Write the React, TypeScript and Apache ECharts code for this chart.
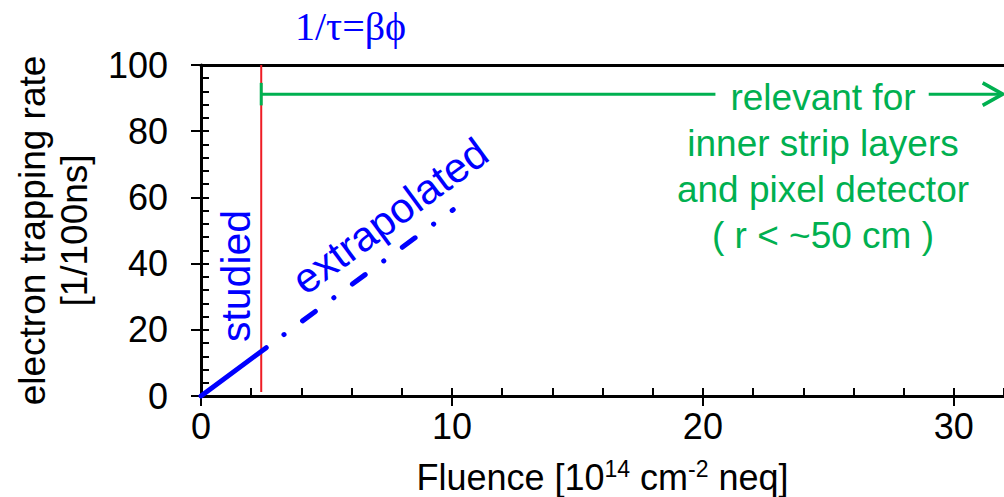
import React, { useEffect, useRef } from "react";
import * as echarts from "echarts";

// Axis ranges and tick steps
const fluenceRange = [0, 32];
const rateRange = [0, 100];
const fluenceMajorStep = 10;
const fluenceMinorStep = 2;
const rateMajorStep = 20;
const rateMinorStep = 4;

// Trapping rate vs fluence: measured range and its extrapolation
const studiedPoints = [
  [0, 0],
  [2.6, 14.6],
];
const extrapolatedPoints = [
  [2.6, 14.6],
  [10.05, 56.3],
];

// Highest fluence reached in the study
const boundaryPoints = [
  [2.4, 1.2],
  [2.4, 100],
];

// "relevant for ..." range arrow
const rangeStop = [
  [2.4, 94.6],
  [2.4, 87.8],
];
const rangeLineLeft = [
  [2.4, 91.2],
  [20.5, 91.2],
];
const rangeLineRight = [
  [29.0, 91.2],
  [31.95, 91.2],
];
const rangeHead = [
  [31.15, 94.6],
  [31.95, 91.2],
  [31.15, 87.8],
];

const BLUE = "#0000ff";
const GREEN = "#00b050";
const RED = "#ee1c25";
const SANS = '"Liberation Sans", Arial, sans-serif';
const SERIF = '"Liberation Serif", "Times New Roman", serif';

export default function App() {
  const ref = useRef<HTMLDivElement>(null);

  useEffect(() => {
    if (!ref.current) return;
    const chart = echarts.init(ref.current, null, { renderer: "svg" });

    const plain = (data: number[][], color: string, width: number, extra: any = {}) => ({
      type: "line",
      data,
      symbol: "none",
      silent: true,
      clip: false,
      xAxisIndex: 0,
      yAxisIndex: 0,
      lineStyle: { color, width, cap: "round", ...extra },
    });

    chart.setOption({
      animation: false,
      backgroundColor: "#ffffff",
      textStyle: { fontFamily: SANS },
      title: {
        text: "1/τ=βϕ",
        left: 290,
        top: 1,
        textStyle: {
          fontFamily: SERIF,
          fontSize: 40,
          fontWeight: "normal",
          color: BLUE,
        },
      },
      grid: {
        left: 201,
        right: 0,
        top: 65,
        bottom: 101,
        outerBoundsMode: "none",
      },
      xAxis: [
        {
          type: "value",
          position: "bottom",
          min: fluenceRange[0],
          max: fluenceRange[1],
          interval: fluenceMajorStep,
          axisLine: { onZero: false, lineStyle: { color: "#000", width: 3 } },
          axisTick: { inside: false, length: 10, lineStyle: { color: "#000", width: 2 } },
          axisLabel: {
            fontSize: 36,
            color: "#000",
            margin: 12,
            fontFamily: SANS,
            showMaxLabel: false,
          },
          splitLine: { show: false },
          name: "Fluence [10{sup|14} cm{sup|-2} neq]",
          nameLocation: "middle",
          nameGap: 61,
          nameTextStyle: {
            fontSize: 36,
            color: "#000",
            fontFamily: SANS,
            lineHeight: 40,
            rich: {
              sup: { fontSize: 23, verticalAlign: "top", lineHeight: 40, color: "#000", fontFamily: SANS },
            },
          },
        },
        {
          type: "value",
          position: "bottom",
          min: fluenceRange[0],
          max: fluenceRange[1],
          interval: fluenceMinorStep,
          axisLine: { show: false, onZero: false },
          axisTick: { inside: true, length: 8, lineStyle: { color: "#000", width: 2 } },
          axisLabel: { show: false },
          splitLine: { show: false },
        },
        {
          type: "value",
          position: "top",
          min: fluenceRange[0],
          max: fluenceRange[1],
          axisLine: { show: true, onZero: false, lineStyle: { color: "#000", width: 3 } },
          axisTick: { show: false },
          axisLabel: { show: false },
          splitLine: { show: false },
        },
      ],
      yAxis: [
        {
          type: "value",
          position: "left",
          min: rateRange[0],
          max: rateRange[1],
          interval: rateMajorStep,
          axisLine: { onZero: false, lineStyle: { color: "#000", width: 3 } },
          axisTick: { inside: false, length: 10, lineStyle: { color: "#000", width: 2 } },
          axisLabel: { fontSize: 36, color: "#000", margin: 33, fontFamily: SANS },
          splitLine: { show: false },
          name: "electron trapping rate\n[1/100ns]",
          nameLocation: "middle",
          nameRotate: 90,
          nameGap: 106,
          nameTextStyle: {
            fontSize: 37,
            color: "#000",
            fontFamily: SANS,
            lineHeight: 42,
            align: "center",
          },
        },
        {
          type: "value",
          position: "left",
          min: rateRange[0],
          max: rateRange[1],
          interval: rateMinorStep,
          axisLine: { show: false, onZero: false },
          axisTick: { inside: true, length: 8, lineStyle: { color: "#000", width: 2 } },
          axisLabel: { show: false },
          splitLine: { show: false },
        },
      ],
      series: [
        plain(boundaryPoints, RED, 2, { cap: "butt" }),
        plain(rangeStop, GREEN, 3, { cap: "butt" }),
        plain(rangeLineLeft, GREEN, 3, { cap: "butt" }),
        plain(rangeLineRight, GREEN, 3, { cap: "butt" }),
        plain(rangeHead, GREEN, 3.5, { cap: "butt", join: "miter" }),
        plain(studiedPoints, BLUE, 5),
        plain(extrapolatedPoints, BLUE, 5, {
          type: [0.1, 23, 15.9, 23],
          dashOffset: 40,
        }),
      ],
      graphic: [
        {
          type: "text",
          x: 823,
          y: 166,
          silent: true,
          style: {
            text: "relevant for\ninner strip layers\nand pixel detector\n( r < ~50 cm )",
            fill: GREEN,
            fontSize: 37,
            fontFamily: SANS,
            lineHeight: 46,
            align: "center",
            verticalAlign: "middle",
          },
        },
        {
          type: "text",
          x: 236,
          y: 276,
          rotation: Math.PI / 2,
          silent: true,
          style: {
            text: "studied",
            fill: BLUE,
            fontSize: 41,
            fontFamily: SANS,
            align: "center",
            verticalAlign: "middle",
          },
        },
        {
          type: "text",
          x: 390,
          y: 216,
          rotation: (36.4 * Math.PI) / 180,
          silent: true,
          style: {
            text: "extrapolated",
            fill: BLUE,
            fontSize: 42,
            fontFamily: SANS,
            align: "center",
            verticalAlign: "middle",
          },
        },
      ],
    });

    return () => chart.dispose();
  }, []);

  return (
    <div
      ref={ref}
      style={{ position: "absolute", left: 0, top: 0, width: 1004, height: 497 }}
    />
  );
}
